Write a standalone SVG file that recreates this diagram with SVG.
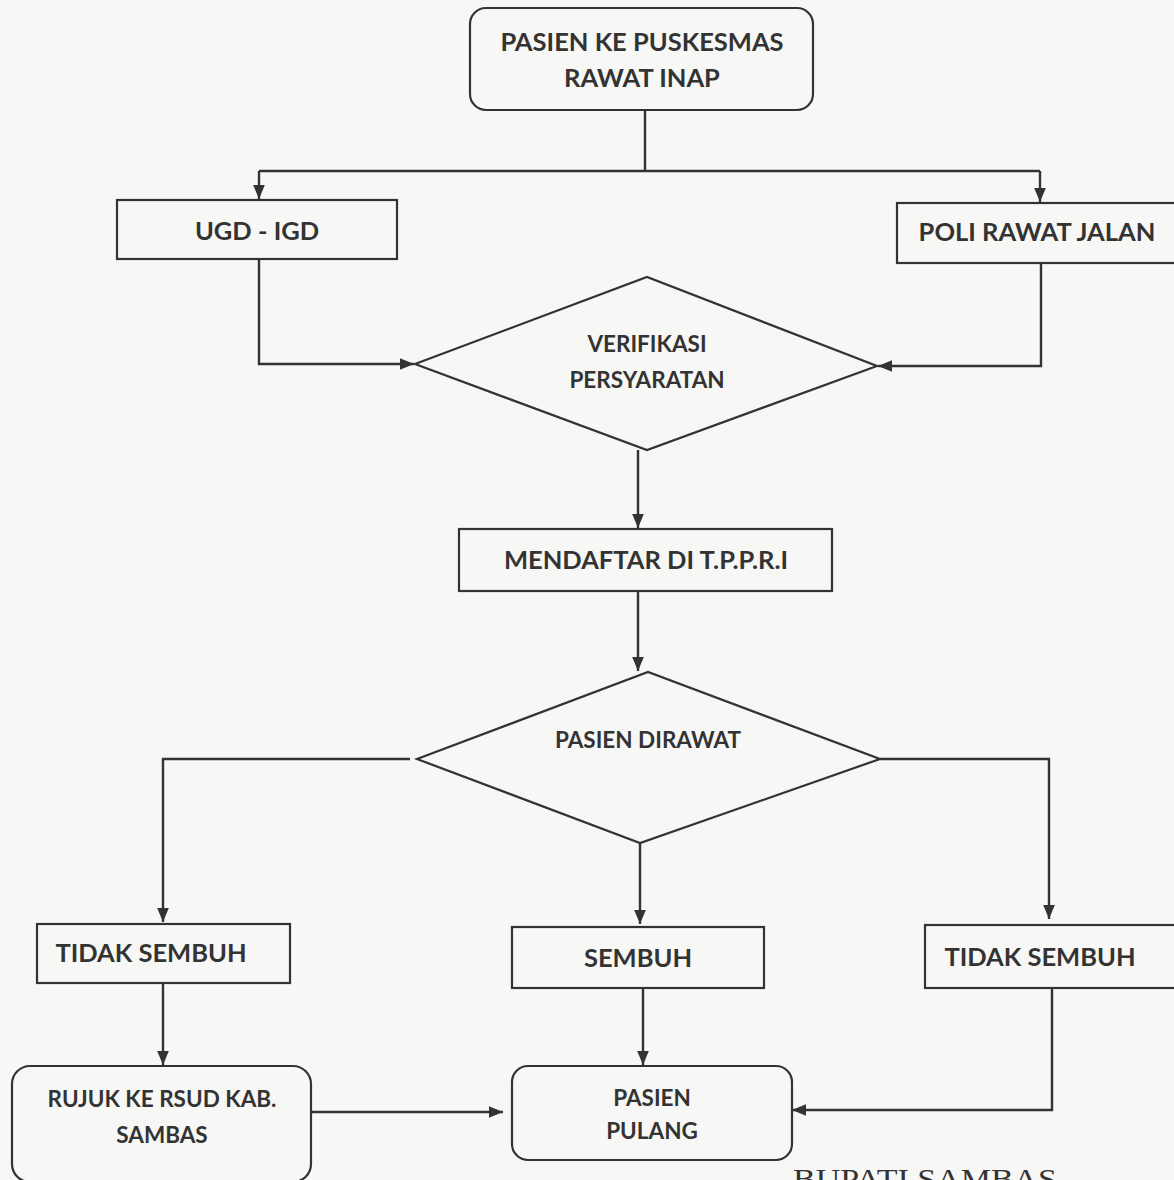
<svg xmlns="http://www.w3.org/2000/svg" width="1174" height="1180" viewBox="0 0 1174 1180">
<style>
.box{fill:none;stroke:#333;stroke-width:2.2}
.ln{fill:none;stroke:#333;stroke-width:2.4}
.t{font-family:Lato,"Open Sans",sans-serif;font-weight:bold;fill:#333;text-anchor:middle}
.l{font-size:25.5px}
.s{font-size:22.5px}
</style>
<defs>
<marker id="a" viewBox="0 0 12 10" refX="12" refY="5" markerWidth="14" markerHeight="12" markerUnits="userSpaceOnUse" orient="auto"><path d="M0,0 L12,5 L0,10 z" fill="#333"/></marker>
</defs>
<rect width="1174" height="1180" fill="#f7f7f5"/>
<g id="connectors">
<path class="ln" d="M645,110 V171"/>
<path class="ln" d="M259,171 H1040"/>
<path class="ln" d="M259,171 V199" marker-end="url(#a)"/>
<path class="ln" d="M1040,171 V202" marker-end="url(#a)"/>
<path class="ln" d="M259,259 V364 H414" marker-end="url(#a)"/>
<path class="ln" d="M1041,263 V366 H878" marker-end="url(#a)"/>
<path class="ln" d="M638,450 V528" marker-end="url(#a)"/>
<path class="ln" d="M638,591 V671" marker-end="url(#a)"/>
<path class="ln" d="M410,759 H163 V922" marker-end="url(#a)"/>
<path class="ln" d="M880,759 H1049 V919" marker-end="url(#a)"/>
<path class="ln" d="M640,843 V924" marker-end="url(#a)"/>
<path class="ln" d="M163,983 V1065" marker-end="url(#a)"/>
<path class="ln" d="M311,1112 H503" marker-end="url(#a)"/>
<path class="ln" d="M643,988 V1065" marker-end="url(#a)"/>
<path class="ln" d="M1052,988 V1110 H792" marker-end="url(#a)"/>
</g>
<g id="n-start"><rect class="box" x="470" y="8" width="343" height="102" rx="16"/>
<text class="t l" x="642" y="51">PASIEN KE PUSKESMAS</text><text class="t l" x="642" y="87">RAWAT INAP</text></g>
<g id="n-ugd"><rect class="box" x="117" y="200" width="280" height="59"/>
<text class="t l" x="257" y="240">UGD - IGD</text></g>
<g id="n-poli"><rect class="box" x="897" y="203" width="280" height="60"/>
<text class="t l" x="1037" y="241">POLI RAWAT JALAN</text></g>
<g id="n-verif"><polygon class="box" points="415,364 647,277 877,366 647,450"/>
<text class="t s" x="647" y="352">VERIFIKASI</text><text class="t s" x="647" y="388">PERSYARATAN</text></g>
<g id="n-daftar"><rect class="box" x="459" y="529" width="373" height="62"/>
<text class="t l" x="646" y="569">MENDAFTAR DI T.P.P.R.I</text></g>
<g id="n-dirawat"><polygon class="box" points="417,759 648,672 880,759 640,843"/>
<text class="t s" x="648" y="748">PASIEN DIRAWAT</text></g>
<g id="n-tidak1"><rect class="box" x="37" y="924" width="253" height="59"/>
<text class="t l" x="151" y="962">TIDAK SEMBUH</text></g>
<g id="n-sembuh"><rect class="box" x="512" y="927" width="252" height="61"/>
<text class="t l" x="638" y="967">SEMBUH</text></g>
<g id="n-tidak2"><rect class="box" x="925" y="925" width="252" height="63"/>
<text class="t l" x="1040" y="966">TIDAK SEMBUH</text></g>
<g id="n-rujuk"><rect class="box" x="12" y="1066" width="299" height="116" rx="18"/>
<text class="t s" x="162" y="1107">RUJUK KE RSUD KAB.</text><text class="t s" x="162" y="1143">SAMBAS</text></g>
<g id="n-pulang"><rect class="box" x="512" y="1066" width="280" height="94" rx="16"/>
<text class="t s" x="652" y="1106">PASIEN</text><text class="t s" x="652" y="1139">PULANG</text></g>
<text x="793" y="1189" font-family="Liberation Serif,serif" font-size="30" fill="#333" textLength="264" lengthAdjust="spacingAndGlyphs">BUPATI SAMBAS</text>
</svg>
